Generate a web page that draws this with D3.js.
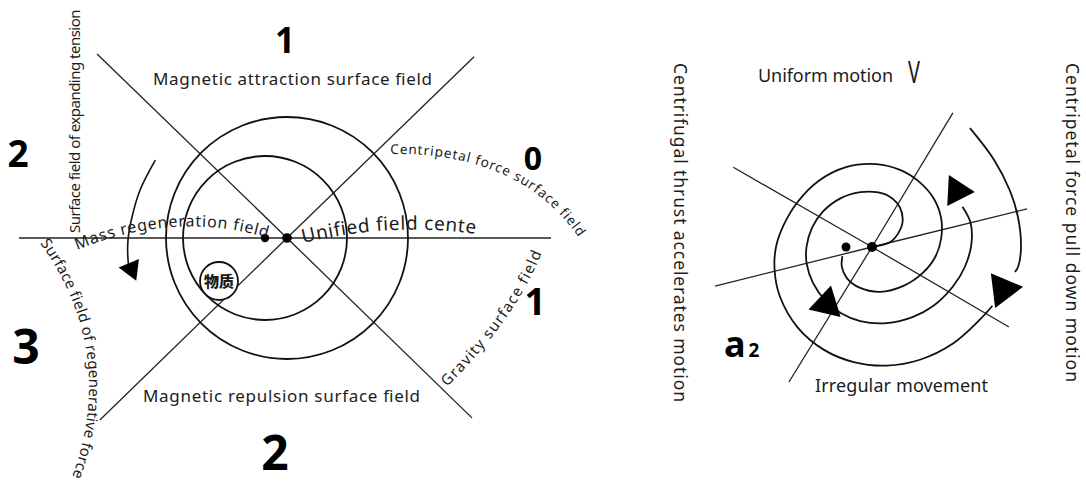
<!DOCTYPE html>
<html>
<head>
<meta charset="utf-8">
<script src="https://cdn.jsdelivr.net/npm/d3@7"></script>
<style>
  body { margin: 0; background: #fff; }
  svg { display: block; }
  text { font-family: "Noto Sans", "Open Sans", sans-serif; fill: #1c1c1c; }
</style>
</head>
<body>
<div id="chart"></div>
<script>
// ---------- data (angles in degrees, clockwise from east; lengths in px) ----------
const leftRays = [[0, 264], [180, 268], [-135.9, 264.5], [44.2, 258], [-44.1, 260.5], [135.8, 261]];
const rightRays = [[-150.1, 160], [30.3, 158.6], [-58.9, 156.6], [121.6, 158.5], [-13.8, 159.6], [166, 161.8]];

// rings of the left figure: [offset of centre along x, radius]
const leftRings = [[0, 121], [-22, 82]];
// small dots: [offset x, radius]
const leftDots = [[-22, 4.2], [0, 4.8]];
const rightDots = [[-26, 4.5], [0, 5]];

// left sweeping arrow arc: [angle, radius]
const sweepArc = [[-149.4, 153], [-162, 154.6], [-172.3, 156.4], [-180.7, 159], [-188, 160.5], [-190, 160.5]];

// right spiral pieces: [angle, radius]
const hookSpiral = [[0, 0], [-15, 19], [-28, 30], [-40, 40], [-55, 48.5], [-71, 53.5], [-85, 55],
  [-102, 56], [-123, 58], [-144, 60.5], [-162, 63], [-180, 65.5], [-195, 67.5], [-211, 69],
  [-229, 71], [-245, 73], [-261, 75], [-281, 77.5], [-300, 81], [-316, 85], [-334, 90],
  [-348, 95], [-362, 99.5], [-374, 101.5], [-384, 99]];
const outerSpiral = [[163, 31], [147, 36], [129, 40], [107, 42.5], [80, 45.5], [51, 50], [27, 57],
  [9, 64], [-8, 70], [-23, 75], [-38, 78.5], [-54, 80.5], [-70, 82], [-87, 83], [-108, 84],
  [-129, 85], [-149, 87], [-166, 91], [-180, 96], [-193, 100], [-208, 104.5], [-227, 109.5],
  [-245, 113.5], [-261, 116.5], [-277, 119.5], [-293, 122.5], [-310, 126], [-326, 130], [-334, 134]];
const rimArc = [[-50.5, 154], [-35.7, 150], [-22.4, 149], [-11.6, 149], [0, 149], [7.8, 147.4], [9.9, 145]];

// arrow heads: [angle, radius, rotation, area]
const leftHeads = [[168.7, 158.8, 157, 210]];
const rightHeads = [[-33.4, 101.8, 93, 416], [17.9, 137.7, 83, 530], [128.5, 72.8, 13, 471]];

// texts
const zoneNumbers = ["1", "2", "0", "1", "3", "2"];
const fieldLabels = ["Magnetic attraction surface field", "Magnetic repulsion surface field",
  "Unified field cente", "Mass regeneration field", "Centripetal force surface field",
  "Gravity surface field", "Surface field of expanding tension", "Surface field of regenerative force"];
const matterLabel = "物质";
const motionLabels = ["Uniform motion", "V", "Irregular movement",
  "Centrifugal thrust accelerates motion", "Centripetal force pull down motion"];
const accelLabel = ["a", "2"];

// ---------- drawing ----------
const width = 1086, height = 483;
const svg = d3.select("#chart").append("svg")
  .attr("width", width).attr("height", height)
  .attr("viewBox", [0, 0, width, height]);
const defs = svg.append("defs");

const rad = d => d * Math.PI / 180;
const radial = d3.lineRadial()
  .angle(d => rad(d[0] + 90))
  .radius(d => d[1])
  .curve(d3.curveCatmullRom.alpha(0.5));
const polar = (a, r) => [r * Math.cos(rad(a)), r * Math.sin(rad(a))];

function figure(cx, cy) {
  return svg.append("g").attr("transform", `translate(${cx},${cy})`);
}

function rays(g, data) {
  g.append("g").selectAll("line")
    .data(data)
    .join("line")
    .attr("x1", 0).attr("y1", 0)
    .attr("x2", d => polar(d[0], d[1])[0])
    .attr("y2", d => polar(d[0], d[1])[1])
    .attr("stroke", "#222")
    .attr("stroke-width", 1.3);
}

function heads(g, data) {
  g.append("g").selectAll("path")
    .data(data)
    .join("path")
    .attr("d", d => d3.symbol(d3.symbolTriangle, d[3])())
    .attr("transform", d => `translate(${polar(d[0], d[1])}) rotate(${d[2]})`)
    .attr("fill", "#000");
}

function curve(g, data, w) {
  g.append("path")
    .attr("d", radial(data))
    .attr("fill", "none")
    .attr("stroke", "#111")
    .attr("stroke-width", w);
}

let pid = 0;
function onPath(d, txt, size) {
  const id = "tp" + (pid++);
  const p = defs.append("path").attr("id", id).attr("d", d);
  const t = svg.append("text").attr("font-size", size);
  t.append("textPath").attr("href", "#" + id).text(txt);
  const target = p.node().getTotalLength();
  const len = t.node().getComputedTextLength();
  t.attr("letter-spacing", (target - len) / txt.length);
  return t;
}

function label(x, y, txt, size, len) {
  const t = svg.append("text")
    .attr("x", x).attr("y", y)
    .attr("font-size", size)
    .text(txt);
  if (len) t.attr("textLength", len).attr("lengthAdjust", "spacing");
  return t;
}

// ===== left figure =====
const L = figure(287, 238);
rays(L, leftRays);

L.append("g").selectAll("circle")
  .data(leftRings)
  .join("circle")
  .attr("cx", d => d[0]).attr("cy", 0).attr("r", d => d[1])
  .attr("fill", "none").attr("stroke", "#111").attr("stroke-width", 1.8);

L.append("g").selectAll("circle")
  .data(leftDots)
  .join("circle")
  .attr("cx", d => d[0]).attr("cy", 0).attr("r", d => d[1])
  .attr("fill", "#000");

curve(L, sweepArc, 1.6);
heads(L, leftHeads);

// matter circle
const matter = L.append("g").attr("transform", "translate(-68,43)");
matter.append("circle").attr("r", 19)
  .attr("fill", "#fff").attr("stroke", "#111").attr("stroke-width", 1.8);
matter.append("text")
  .attr("text-anchor", "middle").attr("y", 5.5)
  .attr("font-size", 15).attr("font-weight", 900)
  .style("font-family", "'Noto Sans CJK SC', sans-serif")
  .text(matterLabel);

// zone numbers
const numPos = [[285, 53, 35], [18, 167, 37], [533, 170, 32], [535, 315, 37], [26, 364, 48], [275, 470, 48]];
svg.append("g").selectAll("text")
  .data(zoneNumbers)
  .join("text")
  .attr("x", (d, i) => numPos[i][0])
  .attr("y", (d, i) => numPos[i][1])
  .attr("font-size", (d, i) => numPos[i][2])
  .attr("font-weight", 700)
  .attr("text-anchor", "middle")
  .style("fill", "#000")
  .text(d => d);

label(153, 85, fieldLabels[0], 17, 279);
label(143, 402, fieldLabels[1], 17, 277);
onPath("M303,243 Q390,222 476,234", fieldLabels[2], 19);
onPath("M77,250 Q175,210 268,238", fieldLabels[3], 16);
onPath("M390,154 Q520,152 579,238", fieldLabels[4], 13.5);
onPath("M447,387 Q517,317 542,252", fieldLabels[5], 15);
onPath("M80,233 L80,10", fieldLabels[6], 15);
onPath("M40,243 Q118,352 72,477", fieldLabels[7], 15);

// ===== right figure =====
const R = figure(872, 247);
rays(R, rightRays);
curve(R, hookSpiral, 1.8);
curve(R, outerSpiral, 1.8);
curve(R, rimArc, 1.8);
heads(R, rightHeads);

R.append("g").selectAll("circle")
  .data(rightDots)
  .join("circle")
  .attr("cx", d => d[0]).attr("cy", 0).attr("r", d => d[1])
  .attr("fill", "#000");

label(758, 82, motionLabels[0], 18, 135);
label(908, 83, motionLabels[1], 31, 12).attr("lengthAdjust", "spacingAndGlyphs");
label(815, 392, motionLabels[2], 18, 173);

svg.append("text")
  .attr("transform", "translate(674,63) rotate(90)")
  .attr("font-size", 17.5)
  .attr("textLength", 339).attr("lengthAdjust", "spacing")
  .text(motionLabels[3]);
svg.append("text")
  .attr("transform", "translate(1066,63) rotate(90)")
  .attr("font-size", 17.5)
  .attr("textLength", 319).attr("lengthAdjust", "spacing")
  .text(motionLabels[4]);

// a2
svg.append("text")
  .attr("x", 724).attr("y", 357)
  .attr("font-size", 36).attr("font-weight", 700)
  .style("fill", "#000")
  .text(accelLabel[0])
  .append("tspan")
  .attr("font-size", 19).attr("dx", 3)
  .text(accelLabel[1]);
</script>
</body>
</html>
